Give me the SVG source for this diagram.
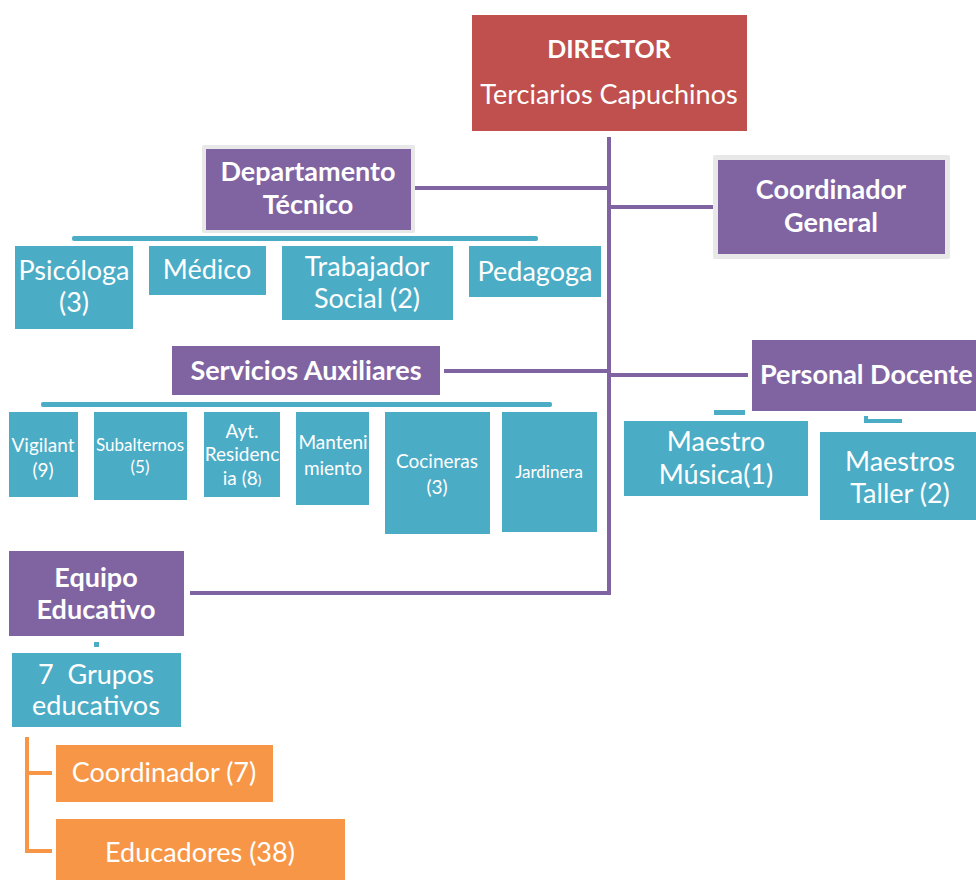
<svg xmlns="http://www.w3.org/2000/svg" width="976" height="880" viewBox="0 0 976 880">
  <style>
    .t { font-family: Lato, "Open Sans", "Liberation Sans", sans-serif; fill: #ffffff; text-anchor: middle; }
    .b { font-weight: bold; }
    .purple { fill: #8064a2; }
    .teal { fill: #4bacc6; }
    .orange { fill: #f79646; }
    .red { fill: #c0504d; }
    .frame { fill: #e8e8e8; }
    .lineP { stroke: #8064a2; stroke-width: 4; fill: none; }
    .lineO { stroke: #f79646; stroke-width: 4; fill: none; }
  </style>
  <rect width="976" height="880" fill="#ffffff"/>

  <!-- connectors -->
  <g id="connectors">
    <path class="lineP" d="M609 137 V593 H190"/>
    <path class="lineP" d="M414 188 H609"/>
    <path class="lineP" d="M609 207 H714"/>
    <path class="lineP" d="M444 371 H609"/>
    <path class="lineP" d="M609 375 H748"/>
    <rect class="teal" x="72" y="236" width="466" height="5" rx="2"/>
    <rect class="teal" x="41" y="402" width="511" height="5" rx="2"/>
    <rect class="teal" x="714" y="410" width="31" height="5"/>
    <path d="M866 416 V421 H902" stroke="#4bacc6" stroke-width="4" fill="none"/>
    <rect class="teal" x="94" y="642" width="5" height="5"/>
    <path class="lineO" d="M52 773 H27 V737 M27 773 V851 H52"/>
  </g>

  <g id="director">
    <rect class="red" x="472" y="15" width="275" height="116"/>
    <text class="t b" x="609" y="58" font-size="25">DIRECTOR</text>
    <text class="t" x="609" y="104" font-size="27">Terciarios Capuchinos</text>
  </g>

  <g id="dept-tecnico">
    <rect class="frame" x="202" y="145" width="213" height="88" rx="2"/>
    <rect class="purple" x="206" y="149" width="205" height="81"/>
    <text class="t b" x="308" y="181" font-size="27">Departamento</text>
    <text class="t b" x="308" y="214" font-size="27">Técnico</text>
  </g>

  <g id="psicologa">
    <rect class="teal" x="15" y="246" width="118" height="83"/>
    <text class="t" x="74" y="280" font-size="27">Psicóloga</text>
    <text class="t" x="74" y="312" font-size="27">(3)</text>
  </g>
  <g id="medico">
    <rect class="teal" x="149" y="246" width="117" height="49"/>
    <text class="t" x="207" y="279" font-size="27">Médico</text>
  </g>
  <g id="trabajador-social">
    <rect class="teal" x="282" y="246" width="171" height="74"/>
    <text class="t" x="367" y="276" font-size="27">Trabajador</text>
    <text class="t" x="367" y="308" font-size="27">Social (2)</text>
  </g>
  <g id="pedagoga">
    <rect class="teal" x="469" y="246" width="132" height="51"/>
    <text class="t" x="535" y="281" font-size="27">Pedagoga</text>
  </g>

  <g id="coordinador-general">
    <rect class="frame" x="713" y="155" width="237" height="104" rx="2"/>
    <rect class="purple" x="718" y="160" width="227" height="94"/>
    <text class="t b" x="831" y="199" font-size="27">Coordinador</text>
    <text class="t b" x="831" y="232" font-size="27">General</text>
  </g>

  <g id="servicios-auxiliares">
    <rect class="purple" x="172" y="346" width="268" height="49"/>
    <text class="t b" x="306" y="380" font-size="27">Servicios Auxiliares</text>
  </g>

  <g id="vigilant">
    <rect class="teal" x="9" y="412" width="69" height="85"/>
    <text class="t" x="43" y="452" font-size="19">Vigilant</text>
    <text class="t" x="43" y="477" font-size="19">(9)</text>
  </g>
  <g id="subalternos">
    <rect class="teal" x="94" y="412" width="93" height="88"/>
    <text class="t" x="140" y="451" font-size="17">Subalternos</text>
    <text class="t" x="140" y="473" font-size="17">(5)</text>
  </g>
  <g id="ayt-residencia">
    <rect class="teal" x="204" y="412" width="76" height="85"/>
    <text class="t" x="242" y="438" font-size="19">Ayt.</text>
    <text class="t" x="242" y="461" font-size="19">Residenc</text>
    <text class="t" x="242" y="485" font-size="19">ia (8<tspan font-size="13">)</tspan></text>
  </g>
  <g id="mantenimiento">
    <rect class="teal" x="296" y="412" width="73" height="93"/>
    <text class="t" x="333" y="449" font-size="19">Manteni</text>
    <text class="t" x="333" y="475" font-size="19">miento</text>
  </g>
  <g id="cocineras">
    <rect class="teal" x="385" y="412" width="105" height="122"/>
    <text class="t" x="437" y="468" font-size="19">Cocineras</text>
    <text class="t" x="437" y="494" font-size="19">(3)</text>
  </g>
  <g id="jardinera">
    <rect class="teal" x="502" y="412" width="95" height="120"/>
    <text class="t" x="549" y="478" font-size="17">Jardinera</text>
  </g>

  <g id="personal-docente">
    <rect class="purple" x="752" y="340" width="224" height="71"/>
    <text class="t b" x="760" y="384" font-size="27" style="text-anchor:start">Personal Docente</text>
  </g>
  <g id="maestro-musica">
    <rect class="teal" x="624" y="421" width="184" height="75"/>
    <text class="t" x="716" y="451" font-size="27">Maestro</text>
    <text class="t" x="716" y="484" font-size="27">Música(1)</text>
  </g>
  <g id="maestros-taller">
    <rect class="teal" x="820" y="432" width="156" height="88"/>
    <text class="t" x="900" y="471" font-size="27">Maestros</text>
    <text class="t" x="900" y="503" font-size="27">Taller (2)</text>
  </g>

  <g id="equipo-educativo">
    <rect class="purple" x="9" y="551" width="175" height="85"/>
    <text class="t b" x="96" y="587" font-size="27">Equipo</text>
    <text class="t b" x="96" y="619" font-size="27">Educativo</text>
  </g>
  <g id="grupos-educativos">
    <rect class="teal" x="12" y="653" width="169" height="74"/>
    <text class="t" x="96" y="684" font-size="27" xml:space="preserve">7  Grupos</text>
    <text class="t" x="96" y="715" font-size="27">educativos</text>
  </g>
  <g id="coordinador-7">
    <rect class="orange" x="56" y="745" width="217" height="57"/>
    <text class="t" x="164" y="782" font-size="27">Coordinador (7)</text>
  </g>
  <g id="educadores">
    <rect class="orange" x="56" y="819" width="289" height="61"/>
    <text class="t" x="200" y="862" font-size="27">Educadores (38)</text>
  </g>
</svg>
